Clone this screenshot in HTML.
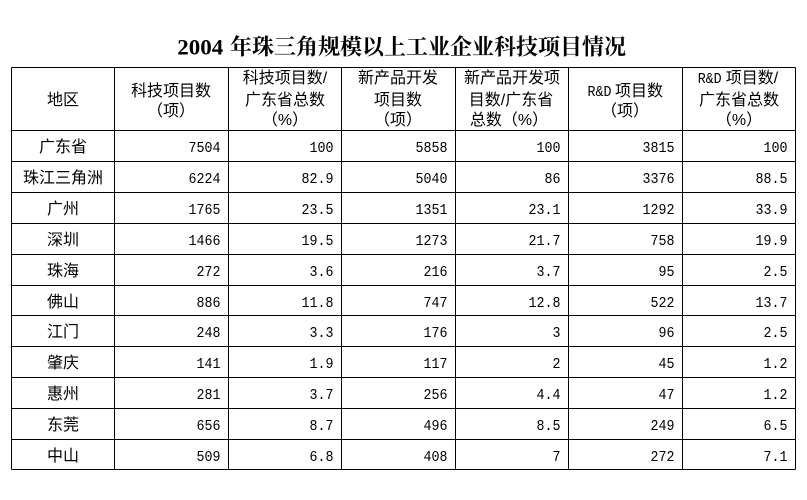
<!DOCTYPE html>
<html>
<head>
<meta charset="utf-8">
<style>
html,body{margin:0;padding:0;background:#fff;}
svg{display:block;}
.cj{font-family:"Liberation Sans","Noto Sans CJK SC",sans-serif;font-size:16px;fill:#000;}
.nm{font-family:"Liberation Mono",monospace;font-size:15px;fill:#000;}
</style>
</head>
<body>
<svg width="807" height="500" viewBox="0 0 807 500" xmlns="http://www.w3.org/2000/svg">
<rect x="0" y="0" width="807" height="500" fill="#fff"/>
<!-- title -->
<text x="177.3" y="54.5" font-family="Liberation Serif,serif" font-weight="bold" font-size="22" textLength="46" lengthAdjust="spacingAndGlyphs" fill="#000">2004</text>
<text x="230" y="54.5" font-family="Liberation Serif,'Noto Serif CJK SC',serif" font-weight="bold" font-size="22" textLength="396" lengthAdjust="spacingAndGlyphs" fill="#000">年珠三角规模以上工业企业科技项目情况</text>

<!-- grid -->
<g stroke="#000" stroke-width="1" shape-rendering="crispEdges">
<line x1="11.5" y1="67.5" x2="795.5" y2="67.5"/>
<line x1="11.5" y1="130.5" x2="795.5" y2="130.5"/>
<line x1="11.5" y1="161.5" x2="795.5" y2="161.5"/>
<line x1="11.5" y1="192.5" x2="795.5" y2="192.5"/>
<line x1="11.5" y1="223.5" x2="795.5" y2="223.5"/>
<line x1="11.5" y1="254.5" x2="795.5" y2="254.5"/>
<line x1="11.5" y1="285.5" x2="795.5" y2="285.5"/>
<line x1="11.5" y1="315.5" x2="795.5" y2="315.5"/>
<line x1="11.5" y1="346.5" x2="795.5" y2="346.5"/>
<line x1="11.5" y1="377.5" x2="795.5" y2="377.5"/>
<line x1="11.5" y1="408.5" x2="795.5" y2="408.5"/>
<line x1="11.5" y1="439.5" x2="795.5" y2="439.5"/>
<line x1="11.5" y1="469.5" x2="795.5" y2="469.5"/>
<line x1="11.5" y1="67.5" x2="11.5" y2="469.5"/>
<line x1="114.5" y1="67.5" x2="114.5" y2="469.5"/>
<line x1="228.5" y1="67.5" x2="228.5" y2="469.5"/>
<line x1="341.5" y1="67.5" x2="341.5" y2="469.5"/>
<line x1="455.5" y1="67.5" x2="455.5" y2="469.5"/>
<line x1="568.5" y1="67.5" x2="568.5" y2="469.5"/>
<line x1="682.5" y1="67.5" x2="682.5" y2="469.5"/>
<line x1="795.5" y1="67.5" x2="795.5" y2="469.5"/>
</g>

<!-- header -->
<g class="cj" text-anchor="middle">
<text x="63" y="105">地区</text>
<text x="171" y="96">科技项目数</text>
<text x="171" y="116">（项）</text>
<text x="285" y="83">科技项目数/</text>
<text x="285" y="105">广东省总数</text>
<text x="285" y="125">（%）</text>
<text x="398" y="83">新产品开发</text>
<text x="398" y="105">项目数</text>
<text x="398" y="125">（项）</text>
<text x="512" y="83">新产品开发项</text>
<text x="511" y="105">目数/广东省</text>
<text x="509" y="125">总数（%）</text>
<text x="639" y="96">项目数</text>
<text x="625" y="116">（项）</text>
<text x="739" y="105">广东省总数</text>
<text x="739" y="125">（%）</text>
</g>
<text class="cj" x="725.7" y="83">项目数/</text>
<text class="nm" x="587.5" y="96" textLength="24" lengthAdjust="spacingAndGlyphs">R&amp;D</text>
<text class="nm" x="697.7" y="83" textLength="24" lengthAdjust="spacingAndGlyphs">R&amp;D</text>

<!-- row labels -->
<g class="cj" text-anchor="middle">
<text x="63" y="152">广东省</text>
<text x="63" y="183">珠江三角洲</text>
<text x="63" y="214">广州</text>
<text x="63" y="245">深圳</text>
<text x="63" y="276">珠海</text>
<text x="63" y="307">佛山</text>
<text x="63" y="337">江门</text>
<text x="63" y="368">肇庆</text>
<text x="63" y="399">惠州</text>
<text x="63" y="430">东莞</text>
<text x="63" y="461">中山</text>
</g>

<!-- numbers -->
<g class="nm" text-anchor="end">
<text x="220.5" y="152" textLength="32" lengthAdjust="spacingAndGlyphs">7504</text>
<text x="333.5" y="152" textLength="24" lengthAdjust="spacingAndGlyphs">100</text>
<text x="447.5" y="152" textLength="32" lengthAdjust="spacingAndGlyphs">5858</text>
<text x="560.5" y="152" textLength="24" lengthAdjust="spacingAndGlyphs">100</text>
<text x="674.5" y="152" textLength="32" lengthAdjust="spacingAndGlyphs">3815</text>
<text x="787.5" y="152" textLength="24" lengthAdjust="spacingAndGlyphs">100</text>

<text x="220.5" y="183" textLength="32" lengthAdjust="spacingAndGlyphs">6224</text>
<text x="333.5" y="183" textLength="32" lengthAdjust="spacingAndGlyphs">82.9</text>
<text x="447.5" y="183" textLength="32" lengthAdjust="spacingAndGlyphs">5040</text>
<text x="560.5" y="183" textLength="16" lengthAdjust="spacingAndGlyphs">86</text>
<text x="674.5" y="183" textLength="32" lengthAdjust="spacingAndGlyphs">3376</text>
<text x="787.5" y="183" textLength="32" lengthAdjust="spacingAndGlyphs">88.5</text>

<text x="220.5" y="214" textLength="32" lengthAdjust="spacingAndGlyphs">1765</text>
<text x="333.5" y="214" textLength="32" lengthAdjust="spacingAndGlyphs">23.5</text>
<text x="447.5" y="214" textLength="32" lengthAdjust="spacingAndGlyphs">1351</text>
<text x="560.5" y="214" textLength="32" lengthAdjust="spacingAndGlyphs">23.1</text>
<text x="674.5" y="214" textLength="32" lengthAdjust="spacingAndGlyphs">1292</text>
<text x="787.5" y="214" textLength="32" lengthAdjust="spacingAndGlyphs">33.9</text>

<text x="220.5" y="245" textLength="32" lengthAdjust="spacingAndGlyphs">1466</text>
<text x="333.5" y="245" textLength="32" lengthAdjust="spacingAndGlyphs">19.5</text>
<text x="447.5" y="245" textLength="32" lengthAdjust="spacingAndGlyphs">1273</text>
<text x="560.5" y="245" textLength="32" lengthAdjust="spacingAndGlyphs">21.7</text>
<text x="674.5" y="245" textLength="24" lengthAdjust="spacingAndGlyphs">758</text>
<text x="787.5" y="245" textLength="32" lengthAdjust="spacingAndGlyphs">19.9</text>

<text x="220.5" y="276" textLength="24" lengthAdjust="spacingAndGlyphs">272</text>
<text x="333.5" y="276" textLength="24" lengthAdjust="spacingAndGlyphs">3.6</text>
<text x="447.5" y="276" textLength="24" lengthAdjust="spacingAndGlyphs">216</text>
<text x="560.5" y="276" textLength="24" lengthAdjust="spacingAndGlyphs">3.7</text>
<text x="674.5" y="276" textLength="16" lengthAdjust="spacingAndGlyphs">95</text>
<text x="787.5" y="276" textLength="24" lengthAdjust="spacingAndGlyphs">2.5</text>

<text x="220.5" y="307" textLength="24" lengthAdjust="spacingAndGlyphs">886</text>
<text x="333.5" y="307" textLength="32" lengthAdjust="spacingAndGlyphs">11.8</text>
<text x="447.5" y="307" textLength="24" lengthAdjust="spacingAndGlyphs">747</text>
<text x="560.5" y="307" textLength="32" lengthAdjust="spacingAndGlyphs">12.8</text>
<text x="674.5" y="307" textLength="24" lengthAdjust="spacingAndGlyphs">522</text>
<text x="787.5" y="307" textLength="32" lengthAdjust="spacingAndGlyphs">13.7</text>

<text x="220.5" y="337" textLength="24" lengthAdjust="spacingAndGlyphs">248</text>
<text x="333.5" y="337" textLength="24" lengthAdjust="spacingAndGlyphs">3.3</text>
<text x="447.5" y="337" textLength="24" lengthAdjust="spacingAndGlyphs">176</text>
<text x="560.5" y="337" textLength="8" lengthAdjust="spacingAndGlyphs">3</text>
<text x="674.5" y="337" textLength="16" lengthAdjust="spacingAndGlyphs">96</text>
<text x="787.5" y="337" textLength="24" lengthAdjust="spacingAndGlyphs">2.5</text>

<text x="220.5" y="368" textLength="24" lengthAdjust="spacingAndGlyphs">141</text>
<text x="333.5" y="368" textLength="24" lengthAdjust="spacingAndGlyphs">1.9</text>
<text x="447.5" y="368" textLength="24" lengthAdjust="spacingAndGlyphs">117</text>
<text x="560.5" y="368" textLength="8" lengthAdjust="spacingAndGlyphs">2</text>
<text x="674.5" y="368" textLength="16" lengthAdjust="spacingAndGlyphs">45</text>
<text x="787.5" y="368" textLength="24" lengthAdjust="spacingAndGlyphs">1.2</text>

<text x="220.5" y="399" textLength="24" lengthAdjust="spacingAndGlyphs">281</text>
<text x="333.5" y="399" textLength="24" lengthAdjust="spacingAndGlyphs">3.7</text>
<text x="447.5" y="399" textLength="24" lengthAdjust="spacingAndGlyphs">256</text>
<text x="560.5" y="399" textLength="24" lengthAdjust="spacingAndGlyphs">4.4</text>
<text x="674.5" y="399" textLength="16" lengthAdjust="spacingAndGlyphs">47</text>
<text x="787.5" y="399" textLength="24" lengthAdjust="spacingAndGlyphs">1.2</text>

<text x="220.5" y="430" textLength="24" lengthAdjust="spacingAndGlyphs">656</text>
<text x="333.5" y="430" textLength="24" lengthAdjust="spacingAndGlyphs">8.7</text>
<text x="447.5" y="430" textLength="24" lengthAdjust="spacingAndGlyphs">496</text>
<text x="560.5" y="430" textLength="24" lengthAdjust="spacingAndGlyphs">8.5</text>
<text x="674.5" y="430" textLength="24" lengthAdjust="spacingAndGlyphs">249</text>
<text x="787.5" y="430" textLength="24" lengthAdjust="spacingAndGlyphs">6.5</text>

<text x="220.5" y="461" textLength="24" lengthAdjust="spacingAndGlyphs">509</text>
<text x="333.5" y="461" textLength="24" lengthAdjust="spacingAndGlyphs">6.8</text>
<text x="447.5" y="461" textLength="24" lengthAdjust="spacingAndGlyphs">408</text>
<text x="560.5" y="461" textLength="8" lengthAdjust="spacingAndGlyphs">7</text>
<text x="674.5" y="461" textLength="24" lengthAdjust="spacingAndGlyphs">272</text>
<text x="787.5" y="461" textLength="24" lengthAdjust="spacingAndGlyphs">7.1</text>
</g>
</svg>
</body>
</html>
